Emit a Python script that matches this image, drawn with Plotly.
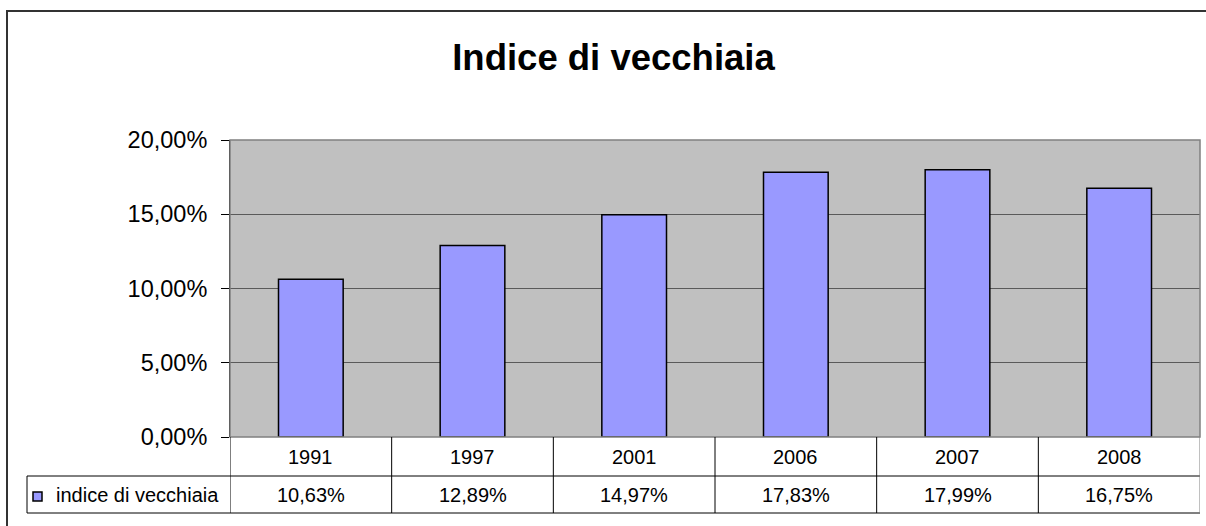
import plotly.graph_objects as go

years = ["1991", "1997", "2001", "2006", "2007", "2008"]
values = [0.1063, 0.1289, 0.1497, 0.1783, 0.1799, 0.1675]
series_name = "indice di vecchiaia"
title_text = "Indice di vecchiaia"

W, H = 1206, 526
L, R, T, B = 230, 6, 140, 89
pw = W - L - R
ph = H - T - B

def px_y(p):
    return (H - B - p) / ph

def px_x(p):
    return (p - L) / pw

FONT = "Liberation Sans, Arial, sans-serif"

fig = go.Figure()
fig.add_trace(go.Bar(
    x=years, y=values, name=series_name,
    marker=dict(color="#9999FF", line=dict(color="#000000", width=1.5)),
    showlegend=False, hoverinfo="skip",
))

shapes = []
annotations = []

# outer chart border
shapes.append(dict(type="rect", xref="paper", yref="paper",
                   x0=px_x(7), x1=px_x(1215), y0=px_y(11), y1=px_y(540),
                   line=dict(color="#333333", width=2), layer="below"))
# plot area border (top/right)
shapes.append(dict(type="rect", xref="paper", yref="paper",
                   x0=0, x1=1, y0=0, y1=1,
                   line=dict(color="#808080", width=1.5), layer="above"))

y_row1 = px_y(476)
y_row2 = px_y(513)
n = len(years)
# horizontal table lines
shapes.append(dict(type="line", xref="paper", yref="paper", x0=px_x(27), x1=1,
                   y0=y_row1, y1=y_row1, line=dict(color="#000000", width=1)))
shapes.append(dict(type="line", xref="paper", yref="paper", x0=px_x(27), x1=1,
                   y0=y_row2, y1=y_row2, line=dict(color="#000000", width=1)))
shapes.append(dict(type="line", xref="paper", yref="paper", x0=px_x(27), x1=px_x(27),
                   y0=y_row1, y1=y_row2, line=dict(color="#000000", width=1)))
# vertical table lines at category boundaries
for i in range(n + 1):
    xb = i - 0.5
    shapes.append(dict(type="line", xref="x", yref="paper", x0=xb, x1=xb,
                       y0=0, y1=y_row2,
                       line=dict(color="#000000" if i < n else "#808080", width=1)))

for i, (yr, v) in enumerate(zip(years, values)):
    annotations.append(dict(x=i, y=(0 + y_row1) / 2, xref="x", yref="paper",
                            text=yr, showarrow=False, yanchor="middle",
                            font=dict(family=FONT, size=20, color="#000000")))
    annotations.append(dict(x=i, y=(y_row1 + y_row2) / 2, xref="x", yref="paper",
                            text=f"{v * 100:.2f}".replace(".", ",") + "%", showarrow=False,
                            yanchor="middle",
                            font=dict(family=FONT, size=20, color="#000000")))

# legend key and label
shapes.append(dict(type="rect", xref="paper", yref="paper",
                   x0=px_x(33), x1=px_x(42), y0=px_y(501), y1=px_y(492),
                   fillcolor="#9999FF", line=dict(color="#000000", width=1.5)))
annotations.append(dict(x=px_x(54), y=(y_row1 + y_row2) / 2, xref="paper", yref="paper",
                        text=series_name, showarrow=False, xanchor="left", yanchor="middle",
                        font=dict(family=FONT, size=20, color="#000000")))

fig.update_layout(
    width=W, height=H,
    margin=dict(l=L, r=R, t=T, b=B, pad=0),
    paper_bgcolor="#FFFFFF",
    plot_bgcolor="#C0C0C0",
    separators=",.",
    bargap=0.6,
    title=dict(text="<b>" + title_text + "</b>", x=(452 + 775) / 2 / W, xanchor="center",
               y=1 - 57 / H, yanchor="middle",
               font=dict(family=FONT, size=36.5, color="#000000")),
    xaxis=dict(type="category", showticklabels=False, ticks="", showgrid=False,
               zeroline=False, showline=False, range=[-0.5, n - 0.5]),
    yaxis=dict(range=[0, 0.20], tickvals=[0, 0.05, 0.10, 0.15, 0.20], tickformat=".2%",
               ticks="outside", ticklen=8, tickcolor="#000000", tickwidth=1,
               ticklabelstandoff=9,
               showline=True, linecolor="#000000", linewidth=1,
               showgrid=True, gridcolor="#5A5A5A", gridwidth=1,
               zeroline=False,
               tickfont=dict(family=FONT, size=23.5, color="#000000")),
    shapes=shapes, annotations=annotations,
    font=dict(family=FONT),
)

fig.write_html("out.html", config={"displayModeBar": False},
               post_script="document.body.style.margin='0';document.body.style.overflow='hidden';")
